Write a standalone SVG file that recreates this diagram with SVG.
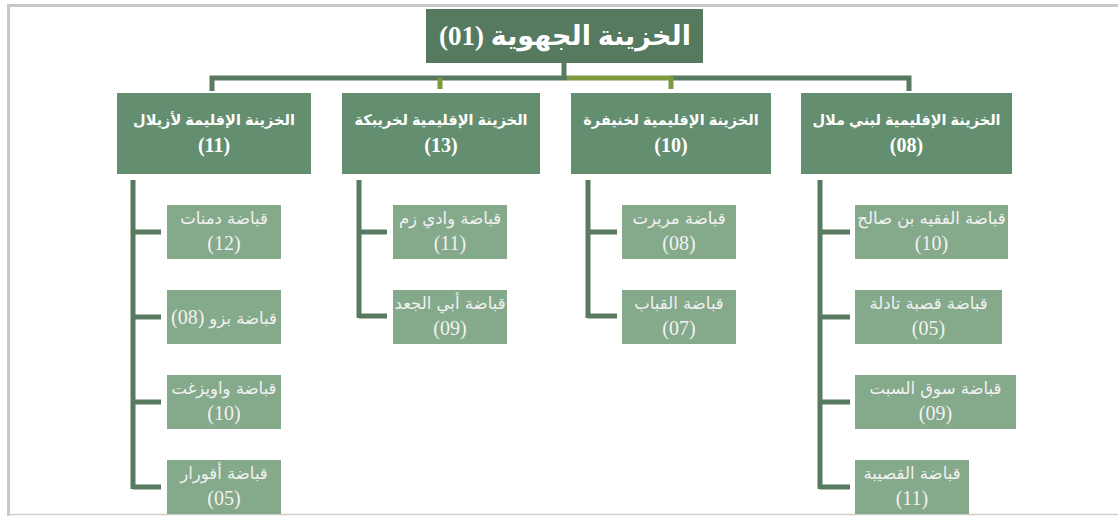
<svg xmlns="http://www.w3.org/2000/svg" width="1118" height="516" viewBox="0 0 1118 516">
<style>
.top{fill:#567a5f}
.l2{fill:#638e6f}
.leaf{fill:#85a98b}
.t{fill:#ffffff;text-anchor:middle;font-family:"Liberation Serif","DejaVu Sans",serif}
.tt{font-size:27px;font-weight:bold}
.t2a{font-family:"Liberation Sans","DejaVu Sans",sans-serif;font-size:14.5px;font-weight:bold}
.t2b{font-size:20px;font-weight:bold}
.tla{font-family:"DejaVu Sans","Liberation Serif",sans-serif;font-size:16.5px;fill:#f2f2f2}
.tlb{font-size:20px;fill:#f2f2f2}
.c{fill:none;stroke:#587a60;stroke-width:5}
.o{fill:none;stroke:#7d9a3f;stroke-width:5}
</style>
<rect x="0" y="0" width="1118" height="516" fill="#ffffff"/>
<path d="M8.5 516 V5.5 H1118" fill="none" stroke="#c9c9c9" stroke-width="3"/>
<line x1="8" y1="514.5" x2="1118" y2="514.5" stroke="#cfcfcf" stroke-width="1.5"/>
<g id="connectors">
<path class="c" d="M564 62 V78"/>
<path class="c" d="M212 91 V78 H567"/>
<path class="c" d="M671 78 H909 V91"/>
<path class="o" d="M567 78 H671 V89"/>
<path class="o" d="M440 78 V89"/>
<path class="c" d="M161 232 H133 M161 317 H133 M161 402 H133 M161 487 H133 M133 180 V489"/>
<path class="c" d="M387 232 H359 M387 316 H359 M359 180 V318"/>
<path class="c" d="M617 232 H588 M617 316 H588 M588 180 V318"/>
<path class="c" d="M850 232 H820 M850 317 H820 M850 402 H820 M850 487 H820 M820 180 V489"/>
</g>
<g id="n01"><rect class="top" x="426" y="9" width="277" height="54"/><text class="t tt" x="565" y="45">الخزينة الجهوية (01)</text></g>
<g id="n11"><rect class="l2" x="117" y="93" width="194" height="81"/><text class="t t2a" x="214" y="125">الخزينة الإقليمة لأزيلال</text><text class="t t2b" x="214" y="152">(11)</text></g>
<g id="n13"><rect class="l2" x="342" y="93" width="198" height="81"/><text class="t t2a" x="441" y="125">الخزينة الإقليمية لخريبكة</text><text class="t t2b" x="441" y="152">(13)</text></g>
<g id="n10"><rect class="l2" x="571" y="93" width="200" height="81"/><text class="t t2a" x="671" y="125">الخزينة الإقليمية لخنيفرة</text><text class="t t2b" x="671" y="152">(10)</text></g>
<g id="n08"><rect class="l2" x="801" y="93" width="211" height="81"/><text class="t t2a" x="906.5" y="125">الخزينة الإقليمية لبني ملال</text><text class="t t2b" x="906.5" y="152">(08)</text></g>

<g id="c12"><rect class="leaf" x="167" y="205" width="114" height="54"/><text class="t tla" x="224" y="224">قباضة دمنات</text><text class="t tlb" x="224" y="250">(12)</text></g>
<g id="c08a"><rect class="leaf" x="167" y="290" width="114" height="54"/><text class="t tlb" x="224" y="324"><tspan class="tla">قباضة بزو</tspan> (08)</text></g>
<g id="c10a"><rect class="leaf" x="167" y="375" width="114" height="54"/><text class="t tla" x="224" y="394">قباضة واويزغت</text><text class="t tlb" x="224" y="420">(10)</text></g>
<g id="c05a"><rect class="leaf" x="167" y="460" width="114" height="54"/><text class="t tla" x="224" y="479">قباضة أفورار</text><text class="t tlb" x="224" y="505">(05)</text></g>

<g id="c11a"><rect class="leaf" x="393" y="205" width="114" height="54"/><text class="t tla" x="450" y="224">قباضة وادي زم</text><text class="t tlb" x="450" y="250">(11)</text></g>
<g id="c09a"><rect class="leaf" x="393" y="290" width="114" height="54"/><text class="t tla" x="450" y="309">قباضة أبي الجعد</text><text class="t tlb" x="450" y="335">(09)</text></g>

<g id="c08b"><rect class="leaf" x="622" y="205" width="114" height="54"/><text class="t tla" x="679" y="224">قباضة مريرت</text><text class="t tlb" x="679" y="250">(08)</text></g>
<g id="c07"><rect class="leaf" x="622" y="290" width="114" height="54"/><text class="t tla" x="679" y="309">قباضة القباب</text><text class="t tlb" x="679" y="335">(07)</text></g>

<g id="c10b"><rect class="leaf" x="855" y="205" width="153" height="54"/><text class="t tla" x="931.5" y="224">قباضة الفقيه بن صالح</text><text class="t tlb" x="931.5" y="250">(10)</text></g>
<g id="c05b"><rect class="leaf" x="855" y="290" width="147" height="54"/><text class="t tla" x="928.5" y="309">قباضة قصبة تادلة</text><text class="t tlb" x="928.5" y="335">(05)</text></g>
<g id="c09b"><rect class="leaf" x="855" y="375" width="161" height="54"/><text class="t tla" x="935.5" y="394">قباضة سوق السبت</text><text class="t tlb" x="935.5" y="420">(09)</text></g>
<g id="c11b"><rect class="leaf" x="855" y="460" width="114" height="54"/><text class="t tla" x="912" y="479">قباضة القصيبة</text><text class="t tlb" x="912" y="505">(11)</text></g>
</svg>
